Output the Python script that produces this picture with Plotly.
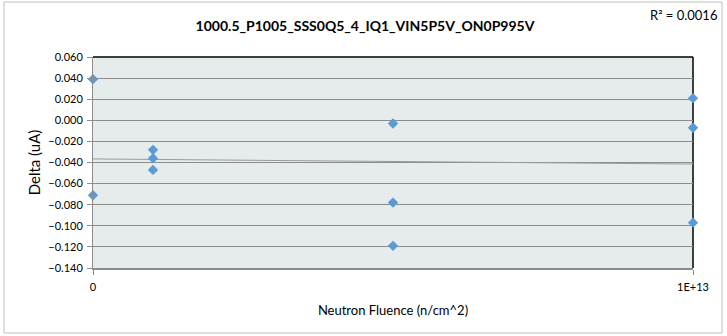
import numpy as np
import plotly.graph_objects as go

title = "1000.5_P1005_SSS0Q5_4_IQ1_VIN5P5V_ON0P995V"
fluence = [0, 0, 1e12, 1e12, 1e12, 5e12, 5e12, 5e12, 1e13, 1e13, 1e13]
delta = [0.039, -0.071, -0.028, -0.036, -0.047, -0.003, -0.078, -0.119, 0.021, -0.007, -0.097]
x_ticks = [0, 1e13]
x_labels = ["0", "1E+13"]
y_ticks = [0.06, 0.04, 0.02, 0.0, -0.02, -0.04, -0.06, -0.08, -0.10, -0.12, -0.14]

xa = np.array(fluence)
ya = np.array(delta)
slope, intercept = np.polyfit(xa, ya, 1)
pred = slope * xa + intercept
r2 = 1 - np.sum((ya - pred) ** 2) / np.sum((ya - ya.mean()) ** 2)
trend_x = [0, 1e13]
trend_y = [intercept, slope * 1e13 + intercept]

FONT = "Lato"
W, H = 727, 336
L, R, T, B = 93, 34, 57, 68
pw, ph = W - L - R, H - T - B

fig = go.Figure()
fig.add_trace(go.Scatter(x=trend_x, y=trend_y, mode="lines",
                         line=dict(color="#9a9a9a", width=1), hoverinfo="skip", showlegend=False))
fig.add_trace(go.Scatter(x=fluence, y=delta, mode="markers", cliponaxis=False,
                         marker=dict(symbol="diamond", size=8, color="#5B9BD5"), showlegend=False))

def px(xp):
    return (xp - L) / pw

def py(yp):
    return (H - B - yp) / ph

shapes = [
    dict(type="rect", xref="paper", yref="paper", x0=px(4), x1=px(722), y0=py(333), y1=py(2),
         line=dict(color="#bfbfbf", width=1), fillcolor="rgba(0,0,0,0)", layer="below"),
    dict(type="line", xref="paper", yref="paper", x0=0, x1=1, y0=1, y1=1, layer="below",
         line=dict(color="#000000", width=1.5)),
    dict(type="line", xref="paper", yref="paper", x0=1, x1=1, y0=0, y1=1, layer="below",
         line=dict(color="#000000", width=1.5)),
]

fig.update_layout(
    width=W, height=H,
    margin=dict(l=L, r=R, t=T, b=B),
    paper_bgcolor="white",
    plot_bgcolor="#E6ECEC",
    font=dict(family=FONT, size=10, color="#000000"),
    title=dict(text="<b>" + title + "</b>", x=365 / W, xanchor="center",
               y=1 - 26 / H, yanchor="middle", font=dict(size=14, family=FONT)),
    shapes=shapes,
    annotations=[dict(text="R² = %.4f" % r2, xref="paper", yref="paper",
                      x=px(719), y=py(15), xanchor="right", yanchor="middle",
                      showarrow=False, font=dict(size=13, family=FONT))],
    xaxis=dict(range=[0, 1e13], tickvals=x_ticks, ticktext=x_labels,
               showgrid=False, zeroline=False,
               showline=True, linecolor="#8c8c8c", linewidth=2,
               ticks="outside", ticklen=5, tickcolor="#8c8c8c",
               tickfont=dict(size=11), ticklabelstandoff=3,
               title=dict(text="Neutron Fluence (n/cm^2)", font=dict(size=13), standoff=14)),
    yaxis=dict(range=[-0.14, 0.06], tickvals=y_ticks, tickformat=".3f",
               showgrid=True, gridcolor="#8c8c8c", gridwidth=1, zeroline=False,
               showline=True, linecolor="#8c8c8c", linewidth=1,
               ticks="outside", ticklen=5, tickcolor="#8c8c8c",
               tickfont=dict(size=11), ticklabelstandoff=2,
               title=dict(text="Delta (uA)", font=dict(size=15), standoff=4)),
)

fig.write_html("out.html")
